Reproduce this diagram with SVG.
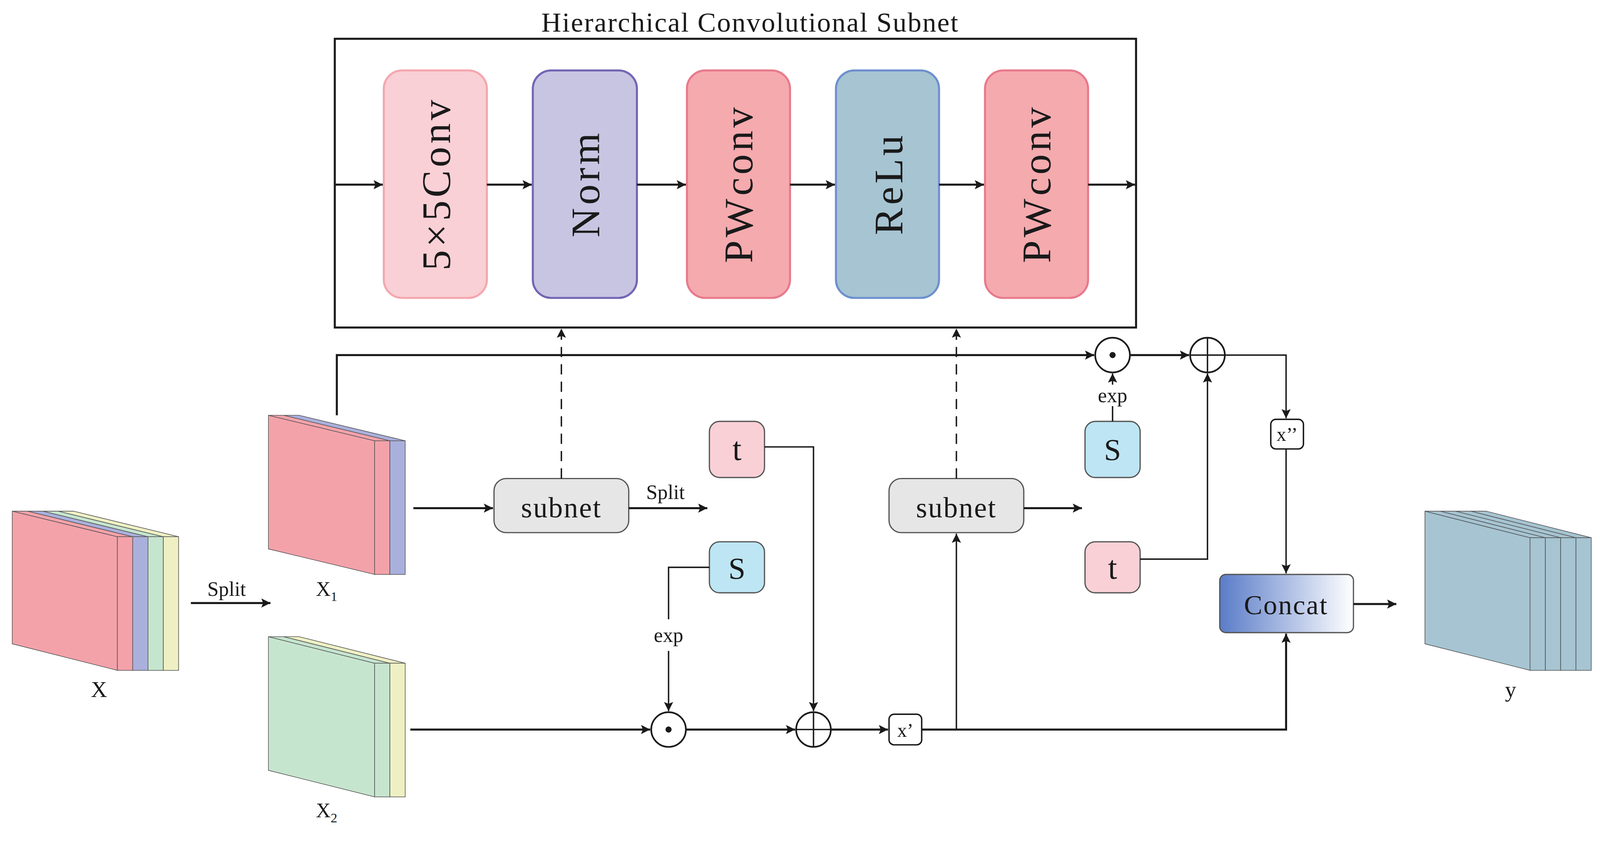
<svg xmlns="http://www.w3.org/2000/svg" width="4196" height="2164" viewBox="0 0 4196 2164">
<defs>
<marker id="ah" viewBox="0 0 10 10" refX="10" refY="5" markerWidth="9" markerHeight="9" orient="auto" markerUnits="userSpaceOnUse"><path d="M0,0 L10,5 L0,10 L2,5 z" fill="#1a1a1a"/></marker>
<linearGradient id="cg" x1="0" x2="1" y1="0" y2="0"><stop offset="0" stop-color="#5a7cc8"/><stop offset="1" stop-color="#ffffff"/></linearGradient>
<style>
text{font-family:"Liberation Serif","DejaVu Serif",serif;fill:#1a1a1a}
.ln{fill:none;stroke:#1a1a1a;stroke-width:1.4}
.thick{fill:none;stroke:#1a1a1a;stroke-width:2}
.blk{font-size:40px;letter-spacing:3px}
.sm{font-size:20px}
.box{stroke:#555;stroke-width:1.2}
.strip{stroke:#555;stroke-width:0.6}
</style>
</defs>
<rect width="4196" height="2164" fill="#fff"/>
<g transform="scale(2.613)">
<g id="hcs">
<text x="735" y="31" font-size="27" text-anchor="middle" letter-spacing="1">Hierarchical Convolutional Subnet</text>
<rect x="328" y="38" width="785" height="283" fill="none" stroke="#1a1a1a" stroke-width="2"/>
</g>
<g id="conv5"><rect x="376" y="69" width="101" height="223" rx="18" fill="#f9d0d6" stroke="#f4a7ae" stroke-width="2"/><text class="blk" transform="translate(441,180) rotate(-90)" text-anchor="middle">5×5Conv</text></g>
<g id="norm"><rect x="522" y="69" width="102" height="223" rx="18" fill="#c8c5e3" stroke="#7465b4" stroke-width="2"/><text class="blk" transform="translate(587,180) rotate(-90)" text-anchor="middle">Norm</text></g>
<g id="pw1"><rect x="673" y="69" width="101" height="223" rx="18" fill="#f5aaae" stroke="#e87a8c" stroke-width="2"/><text class="blk" transform="translate(737,180) rotate(-90)" text-anchor="middle">PWconv</text></g>
<g id="relu"><rect x="819" y="69" width="101" height="223" rx="18" fill="#a6c4d2" stroke="#6e8fcf" stroke-width="2"/><text class="blk" transform="translate(884,180) rotate(-90)" text-anchor="middle">ReLu</text></g>
<g id="pw2"><rect x="965" y="69" width="101" height="223" rx="18" fill="#f5aaae" stroke="#e87a8c" stroke-width="2"/><text class="blk" transform="translate(1029,180) rotate(-90)" text-anchor="middle">PWconv</text></g>

<g id="X">
<polygon points="12,501 115,526 115,657 12,631" fill="#f4a2aa" class="strip"/>
<polygon points="115,526 130,526 27,501 12,501" fill="#f4a2aa" class="strip"/>
<polygon points="130,526 145,526 42,501 27,501" fill="#aab0dc" class="strip"/>
<polygon points="145,526 160,526 57,501 42,501" fill="#c6e5cf" class="strip"/>
<polygon points="160,526 175,526 72,501 57,501" fill="#eef0c4" class="strip"/>
<rect x="115" y="526" width="15" height="131" fill="#f4a2aa" class="strip"/>
<rect x="130" y="526" width="15" height="131" fill="#aab0dc" class="strip"/>
<rect x="145" y="526" width="15" height="131" fill="#c6e5cf" class="strip"/>
<rect x="160" y="526" width="15" height="131" fill="#eef0c4" class="strip"/>
<text x="97" y="683" font-size="22" text-anchor="middle">X</text>
</g>
<g id="X1">
<polygon points="263,407 367,432 367,563 263,538" fill="#f4a2aa" class="strip"/>
<polygon points="367,432 382,432 278,407 263,407" fill="#f4a2aa" class="strip"/>
<polygon points="382,432 397,432 293,407 278,407" fill="#aab0dc" class="strip"/>
<rect x="367" y="432" width="15" height="131" fill="#f4a2aa" class="strip"/>
<rect x="382" y="432" width="15" height="131" fill="#aab0dc" class="strip"/>
<text x="320" y="584" font-size="20" text-anchor="middle">X<tspan font-size="13" dy="5">1</tspan></text>
</g>
<g id="X2">
<polygon points="263,624 367,650 367,781 263,755" fill="#c6e5cf" class="strip"/>
<polygon points="367,650 382,650 278,624 263,624" fill="#c6e5cf" class="strip"/>
<polygon points="382,650 397,650 293,624 278,624" fill="#eef0c4" class="strip"/>
<rect x="367" y="650" width="15" height="131" fill="#c6e5cf" class="strip"/>
<rect x="382" y="650" width="15" height="131" fill="#eef0c4" class="strip"/>
<text x="320" y="801" font-size="20" text-anchor="middle">X<tspan font-size="13" dy="5">2</tspan></text>
</g>
<g id="Y">
<polygon points="1396,501 1499,527 1499,657 1396,631" fill="#a6c4d2" class="strip"/>
<polygon points="1499,527 1514,527 1411,501 1396,501" fill="#a6c4d2" class="strip"/>
<polygon points="1514,527 1529,527 1426,501 1411,501" fill="#a6c4d2" class="strip"/>
<polygon points="1529,527 1544,527 1441,501 1426,501" fill="#a6c4d2" class="strip"/>
<polygon points="1544,527 1559,527 1456,501 1441,501" fill="#a6c4d2" class="strip"/>
<rect x="1499" y="527" width="15" height="130" fill="#a6c4d2" class="strip"/>
<rect x="1514" y="527" width="15" height="130" fill="#a6c4d2" class="strip"/>
<rect x="1529" y="527" width="15" height="130" fill="#a6c4d2" class="strip"/>
<rect x="1544" y="527" width="15" height="130" fill="#a6c4d2" class="strip"/>
<text x="1480" y="683" font-size="22" text-anchor="middle">y</text>
</g>

<g id="subnet1"><rect x="484" y="469" width="132" height="53" rx="12" fill="#e6e6e6" class="box"/><text x="550" y="507" font-size="28" text-anchor="middle" letter-spacing="1">subnet</text></g>
<g id="subnet2"><rect x="871" y="469" width="132" height="53" rx="12" fill="#e6e6e6" class="box"/><text x="937" y="507" font-size="28" text-anchor="middle" letter-spacing="1">subnet</text></g>
<g id="t1"><rect x="695" y="413" width="54" height="55" rx="10" fill="#f9d0d6" class="box"/><text x="722" y="451" font-size="32" text-anchor="middle">t</text></g>
<g id="s1"><rect x="695" y="531" width="54" height="50" rx="10" fill="#bde5f3" class="box"/><text x="722" y="567" font-size="30" text-anchor="middle">S</text></g>
<g id="s2"><rect x="1063" y="413" width="54" height="55" rx="10" fill="#bde5f3" class="box"/><text x="1090" y="451" font-size="30" text-anchor="middle">S</text></g>
<g id="t2"><rect x="1063" y="531" width="54" height="50" rx="10" fill="#f9d0d6" class="box"/><text x="1090" y="567" font-size="32" text-anchor="middle">t</text></g>
<g id="concat"><rect x="1195" y="563" width="131" height="57" rx="6" fill="url(#cg)" class="box"/><text x="1260" y="602" font-size="27" text-anchor="middle" letter-spacing="1">Concat</text></g>
<g id="xp"><rect x="871" y="700" width="32" height="30" rx="5" fill="#fff" stroke="#1a1a1a" stroke-width="1.4"/><text x="887" y="722" font-size="19" text-anchor="middle">x’</text></g>
<g id="xpp"><rect x="1245" y="411" width="32" height="29" rx="5" fill="#fff" stroke="#1a1a1a" stroke-width="1.4"/><text x="1261" y="432" font-size="19" text-anchor="middle">x’’</text></g>
<g id="mul1"><circle cx="1090" cy="348" r="17" fill="#fff" stroke="#1a1a1a" stroke-width="1.6"/><circle cx="1090" cy="348" r="3" fill="#1a1a1a"/></g>
<g id="add1"><circle cx="1183" cy="348" r="17" fill="#fff" stroke="#1a1a1a" stroke-width="1.6"/><path d="M1166,348H1200M1183,331V365" class="ln"/></g>
<g id="mul2"><circle cx="655" cy="715" r="17" fill="#fff" stroke="#1a1a1a" stroke-width="1.6"/><circle cx="655" cy="715" r="3" fill="#1a1a1a"/></g>
<g id="add2"><circle cx="797" cy="715" r="17" fill="#fff" stroke="#1a1a1a" stroke-width="1.6"/><path d="M780,715H814M797,698V732" class="ln"/></g>

<g id="connectors">
<path d="M328,181H375" class="thick" marker-end="url(#ah)"/>
<path d="M477,181H521" class="thick" marker-end="url(#ah)"/>
<path d="M624,181H672" class="thick" marker-end="url(#ah)"/>
<path d="M774,181H818" class="thick" marker-end="url(#ah)"/>
<path d="M920,181H964" class="thick" marker-end="url(#ah)"/>
<path d="M1066,181H1112" class="thick" marker-end="url(#ah)"/>
<path d="M550,469V322" class="ln" stroke-dasharray="10,7" marker-end="url(#ah)"/>
<path d="M937,469V322" class="ln" stroke-dasharray="10,7" marker-end="url(#ah)"/>
<path d="M330,407V348H1072" class="thick" marker-end="url(#ah)"/>
<path d="M1107,348H1165" class="thick" marker-end="url(#ah)"/>
<path d="M1200,348H1260V410" class="ln" marker-end="url(#ah)"/>
<path d="M1260,440V562" class="ln" marker-end="url(#ah)"/>
<path d="M1090,413V398" class="ln"/>
<path d="M1090,377V366" class="ln" marker-end="url(#ah)"/>
<text x="1090" y="394" class="sm" text-anchor="middle">exp</text>
<path d="M1117,548H1183V366" class="ln" marker-end="url(#ah)"/>
<path d="M405,498H483" class="thick" marker-end="url(#ah)"/>
<path d="M616,498H693" class="thick" marker-end="url(#ah)"/>
<text x="652" y="489" class="sm" text-anchor="middle">Split</text>
<path d="M1003,498H1060" class="thick" marker-end="url(#ah)"/>
<path d="M187,591H265" class="thick" marker-end="url(#ah)"/>
<text x="222" y="584" class="sm" text-anchor="middle">Split</text>
<path d="M749,438H797V697" class="ln" marker-end="url(#ah)"/>
<path d="M695,556H655V607" class="ln"/>
<path d="M655,638V697" class="ln" marker-end="url(#ah)"/>
<text x="655" y="629" class="sm" text-anchor="middle">exp</text>
<path d="M402,715H637" class="thick" marker-end="url(#ah)"/>
<path d="M672,715H779" class="thick" marker-end="url(#ah)"/>
<path d="M814,715H870" class="thick" marker-end="url(#ah)"/>
<path d="M903,715H1260V621" class="thick" marker-end="url(#ah)"/>
<path d="M937,715V523" class="ln" marker-end="url(#ah)"/>
<path d="M1326,592H1368" class="thick" marker-end="url(#ah)"/>
</g>
</g>
</svg>
